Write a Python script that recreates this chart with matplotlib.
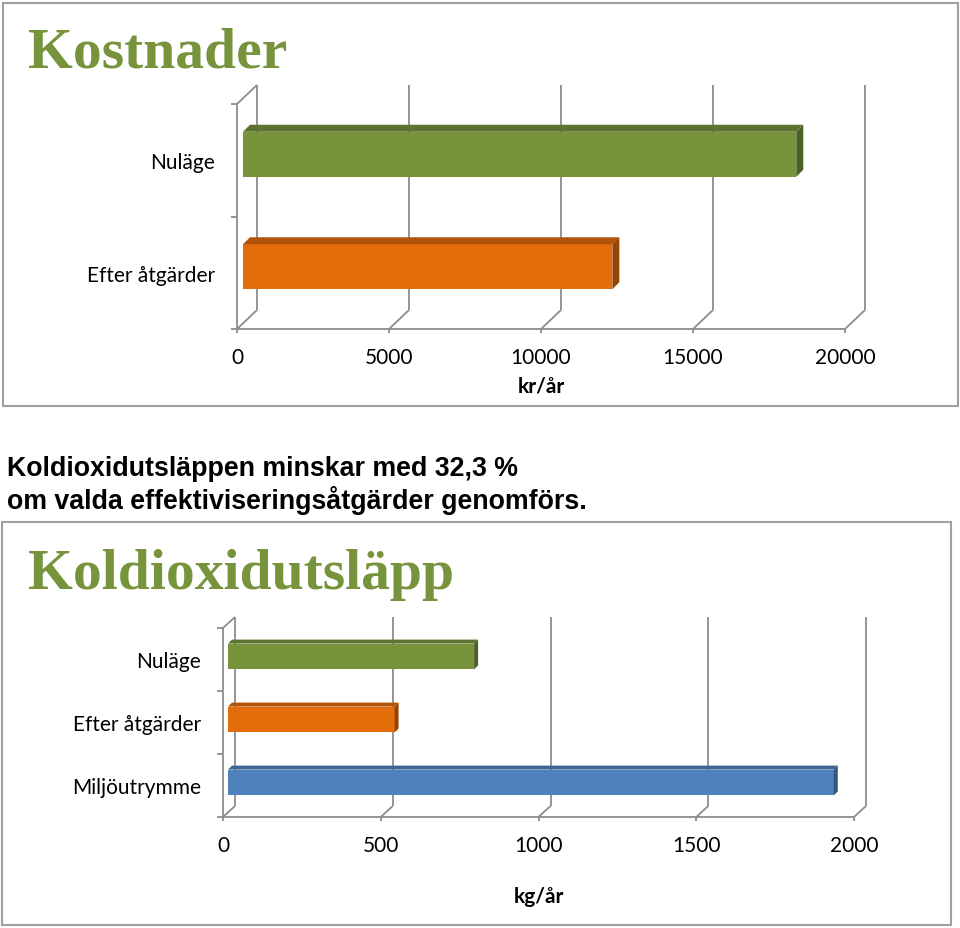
import numpy as np
import matplotlib.pyplot as plt
import matplotlib.colors as mcolors
from matplotlib.patches import Polygon, Rectangle

# ---- data ----
cost_labels = ['Nuläge', 'Efter åtgärder']
cost_values = [18200, 12150]
cost_colors = ['#77933C', '#E46C0A']
cost_ticks = [0, 5000, 10000, 15000, 20000]

co2_labels = ['Nuläge', 'Efter åtgärder', 'Miljöutrymme']
co2_values = [780, 528, 1920]
co2_colors = ['#77933C', '#E46C0A', '#4F81BD']
co2_ticks = [0, 500, 1000, 1500, 2000]

note_lines = ['Koldioxidutsläppen minskar med 32,3 %',
              'om valda effektiviseringsåtgärder genomförs.']

W, H = 960, 929
GRID = '#8C8C8C'
TITLE = '#77933C'
plt.rcParams['font.family'] = ['Lato', 'DejaVu Sans']

fig = plt.figure(figsize=(W/100, H/100), dpi=100)


def frac(l, t, r, b):
    return [l/W, 1-b/H, (r-l)/W, (b-t)/H]


def shade(c, f):
    return tuple(np.array(mcolors.to_rgb(c))*f)


def px_shift(ax, dx, dy):
    # pixel offset -> data offset
    o = ax.transData.transform((0, 0))
    return ax.transData.inverted().transform(o + np.array([dx, dy]))


def panel(rect, labels, values, colors, ticks, depth, bar_shift, bar_depth, bar_h, unit, unit_pad):
    ax = fig.add_axes(frac(*rect))
    n = len(labels)
    y = np.arange(n)
    ax.set_xlim(ticks[0], ticks[-1])
    ax.set_ylim(n-0.5, -0.5)
    for s in ax.spines.values():
        s.set_visible(False)
    ax.patch.set_alpha(0)

    gx, gy = px_shift(ax, *depth)
    bx, by = px_shift(ax, *bar_shift)
    ex, ey = px_shift(ax, *bar_depth)
    ybot, ytop = n-0.5, -0.5
    kw = dict(color=GRID, lw=1.3, clip_on=False, solid_capstyle='butt', zorder=1)

    # back wall grid + floor diagonals
    for t in ticks:
        ax.plot([t+gx, t+gx], [ybot+gy, ytop+gy], **kw)
        ax.plot([t, t+gx], [ybot, ybot+gy], **kw)
    ax.plot([ticks[0], ticks[-1]], [ybot, ybot], **kw)
    ax.plot([0, 0], [ybot, ytop], **kw)
    ax.plot([0, gx], [ytop, ytop+gy], **kw)

    # 3d-looking bars
    for yi, v, c in zip(y, values, colors):
        yc = yi + by
        ax.barh(yc, v, left=bx, height=bar_h, color=c, zorder=3)
        top = yc - bar_h/2
        bot = yc + bar_h/2
        ax.add_patch(Polygon([(bx, top), (bx+ex, top+ey), (bx+v+ex, top+ey), (bx+v, top)],
                             closed=True, fc=shade(c, 0.78), ec='none', zorder=3))
        ax.add_patch(Polygon([(bx+v, top), (bx+v+ex, top+ey), (bx+v+ex, bot+ey), (bx+v, bot)],
                             closed=True, fc=shade(c, 0.65), ec='none', zorder=3))

    ax.set_xticks(ticks)
    ax.set_xticklabels([str(t) for t in ticks], fontsize=15)
    ax.tick_params(axis='x', length=3, width=1.3, color=GRID, pad=10)
    ax.set_yticks(y)
    ax.set_yticklabels(labels, fontsize=15)
    ax.set_yticks(np.arange(n+1)-0.5, minor=True)
    ax.tick_params(axis='y', which='major', length=0, pad=16)
    ax.tick_params(axis='y', which='minor', length=4.5, width=1.3, color=GRID)
    ax.set_xlabel(unit, fontsize=15, fontweight='bold', labelpad=unit_pad)
    return ax


# panel frames
for l, t, r, b in [(3, 4, 958, 407), (2, 523, 951, 926)]:
    fig.add_artist(Rectangle((l/W, 1-b/H), (r-l)/W, (b-t)/H, transform=fig.transFigure,
                             fill=False, ec='#A0A0A0', lw=1.5))

fig.text(28/W, 1-68/H, 'Kostnader', family='Liberation Serif', fontweight='bold',
         fontsize=41.5, color=TITLE, va='baseline')
fig.text(28/W, 1-589/H, 'Koldioxidutsläpp', family='Liberation Serif', fontweight='bold',
         fontsize=41.5, color=TITLE, va='baseline')

fig.text(7/W, 1-476/H, note_lines[0], family='Liberation Sans', fontweight='bold',
         fontsize=19.3, va='baseline')
fig.text(7/W, 1-509/H, note_lines[1], family='Liberation Sans', fontweight='bold',
         fontsize=19.3, va='baseline')

panel((237, 105, 845, 330), cost_labels, cost_values, cost_colors, cost_ticks,
      depth=(20, 19), bar_shift=(6, 6), bar_depth=(7, 7), bar_h=0.4, unit='kr/år', unit_pad=6)
panel((223, 629, 854, 818), co2_labels, co2_values, co2_colors, co2_ticks,
      depth=(12, 11), bar_shift=(5, 3), bar_depth=(4, 4), bar_h=0.41, unit='kg/år', unit_pad=22)

fig.savefig('out.png', dpi=100)
